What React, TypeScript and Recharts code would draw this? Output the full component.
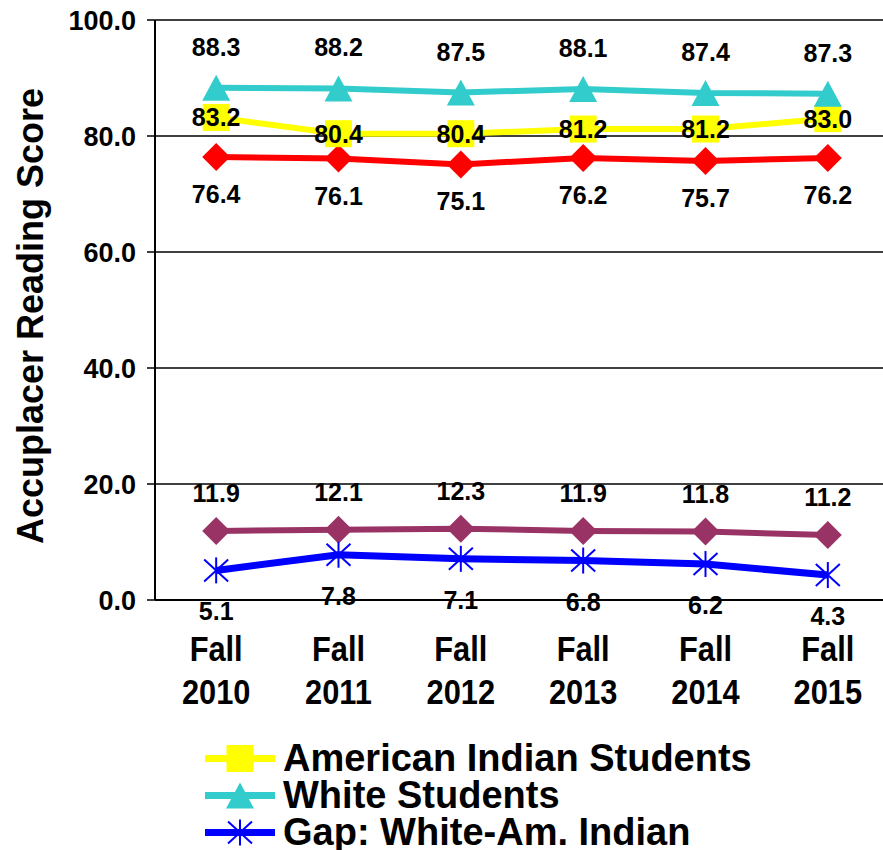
import React from 'react'
import {
  LineChart,
  Line,
  XAxis,
  YAxis,
  CartesianGrid,
  Legend,
  LabelList,
} from 'recharts'

const terms = ['Fall 2010', 'Fall 2011', 'Fall 2012', 'Fall 2013', 'Fall 2014', 'Fall 2015']
const americanIndian = [83.2, 80.4, 80.4, 81.2, 81.2, 83.0]
const whiteStudents = [88.3, 88.2, 87.5, 88.1, 87.4, 87.3]
const otherStudents = [76.4, 76.1, 75.1, 76.2, 75.7, 76.2]
const gapWhiteOther = [11.9, 12.1, 12.3, 11.9, 11.8, 11.2]
const gapWhiteAmIndian = [5.1, 7.8, 7.1, 6.8, 6.2, 4.3]
const yTicks = [0, 20, 40, 60, 80, 100]
const bandTicks = [0, 1, 2, 3, 4, 5, 6]

const FONT = '"Liberation Sans", Arial, Helvetica, sans-serif'

const data = terms.map((term, i) => ({
  term,
  ai: americanIndian[i],
  white: whiteStudents[i],
  other: otherStudents[i],
  gapOther: gapWhiteOther[i],
  gapAi: gapWhiteAmIndian[i],
}))

// marker shapes, shared by the series and the legend
const Square = ({ cx, cy, fill }: any) => (
  <rect x={cx - 13.5} y={cy - 13.5} width={27} height={27} fill={fill} />
)
const Triangle = ({ cx, cy, fill }: any) => (
  <polygon
    points={`${cx},${cy - 13} ${cx - 14},${cy + 13} ${cx + 14},${cy + 13}`}
    fill={fill}
  />
)
const Diamond = ({ cx, cy, fill }: any) => (
  <polygon
    points={`${cx},${cy - 14} ${cx + 14},${cy} ${cx},${cy + 14} ${cx - 14},${cy}`}
    fill={fill}
  />
)
const Star = ({ cx, cy, fill }: any) => (
  <g stroke={fill} strokeWidth={2}>
    <line x1={cx} y1={cy - 13} x2={cx} y2={cy + 13} />
    <line x1={cx - 12} y1={cy - 11} x2={cx + 12} y2={cy + 11} />
    <line x1={cx - 12} y1={cy + 11} x2={cx + 12} y2={cy - 11} />
  </g>
)

const dotOf = (Shape: any, fill: string) => (p: any) =>
  <Shape key={`d-${p.index}`} cx={p.cx} cy={p.cy} fill={fill} />

// value label, dy moves the label centre away from the point
const labelAt = (dy: number) => (p: any) => {
  const { x, y, value, index } = p
  return (
    <text
      key={`l-${index}`}
      x={x}
      y={y + dy + 9}
      textAnchor="middle"
      fill="#000"
      fontFamily={FONT}
      fontWeight="bold"
      fontSize={25}
    >
      {Number(value).toFixed(1)}
    </text>
  )
}

const TermTick = ({ x, y, payload }: any) => {
  const [word, year] = String(payload.value).split(' ')
  return (
    <g transform={`translate(${x},${y})`}>
      <g transform="scale(0.88,1)">
        <text y={61} textAnchor="middle" fill="#000" fontFamily={FONT} fontWeight="bold" fontSize={35}>
          {word}
        </text>
        <text y={104} textAnchor="middle" fill="#000" fontFamily={FONT} fontWeight="bold" fontSize={35}>
          {year}
        </text>
      </g>
    </g>
  )
}

const renderYTitle = (p: any) => {
  const vb = p.viewBox || { x: 0, y: 20, height: 580 }
  const cx = vb.x + 43
  const cy = vb.y + vb.height / 2 + 6
  return (
    <text
      x={cx}
      y={cy}
      transform={`rotate(-90, ${cx}, ${cy})`}
      textAnchor="middle"
      fill="#000"
      fontFamily={FONT}
      fontWeight="bold"
      fontSize={36}
    >
      Accuplacer Reading Score
    </text>
  )
}

const legendRows = [
  { label: 'American Indian Students', color: '#FFFF00', Shape: Square },
  { label: 'White Students', color: '#33CCCC', Shape: Triangle },
  { label: 'Gap: White-Am. Indian', color: '#0000FF', Shape: Star },
]

const renderLegend = () => (
  <div style={{ marginLeft: 205, fontFamily: FONT }}>
    {legendRows.map((row) => (
      <div key={row.label} style={{ display: 'flex', alignItems: 'center', height: 37 }}>
        <svg width={70} height={37} style={{ display: 'block' }}>
          <line x1={0} y1={18.5} x2={70} y2={18.5} stroke={row.color} strokeWidth={7} />
          <row.Shape cx={35} cy={18.5} fill={row.color} />
        </svg>
        <span
          style={{
            marginLeft: 8,
            fontSize: 38,
            fontWeight: 'bold',
            color: '#000',
            lineHeight: '37px',
            whiteSpace: 'nowrap',
          }}
        >
          {row.label}
        </span>
      </div>
    ))}
  </div>
)

export default function App() {
  return (
    <div
      style={{
        position: 'absolute',
        left: 0,
        top: 0,
        width: 883,
        height: 850,
        overflow: 'hidden',
        background: '#fff',
      }}
    >
      <LineChart
        width={900}
        height={870}
        data={data}
        margin={{ top: 20, right: 11, bottom: 0, left: 0 }}
      >
        <CartesianGrid vertical={false} stroke="#000" strokeWidth={1.5} />
        <XAxis
          xAxisId="bands"
          type="number"
          domain={[0, 6]}
          ticks={bandTicks}
          allowDataOverflow
          height={0}
          axisLine={false}
          tickSize={9}
          tickLine={{ stroke: '#000', strokeWidth: 1.5 }}
          tick={() => <g />}
        />
        <XAxis
          dataKey="term"
          scale="band"
          height={140}
          axisLine={{ stroke: '#000', strokeWidth: 2 }}
          tickLine={false}
          tickSize={0}
          tickMargin={0}
          interval={0}
          tick={<TermTick />}
        />
        <YAxis
          domain={[0, 100]}
          ticks={yTicks}
          width={155}
          axisLine={{ stroke: '#000', strokeWidth: 2 }}
          tickLine={{ stroke: '#000', strokeWidth: 1.5 }}
          tickSize={8}
          tickMargin={11}
          tickFormatter={(v) => Number(v).toFixed(1)}
          tick={{ fill: '#000', fontSize: 27, fontWeight: 'bold', fontFamily: FONT }}
          label={renderYTitle}
        />
        <Legend verticalAlign="bottom" height={130} content={renderLegend} />

        <Line
          dataKey="other"
          stroke="#FF0000"
          strokeWidth={6}
          dot={dotOf(Diamond, '#FF0000')}
          isAnimationActive={false}
        >
          <LabelList dataKey="other" content={labelAt(37)} />
        </Line>
        <Line
          dataKey="gapOther"
          stroke="#993366"
          strokeWidth={6}
          dot={dotOf(Diamond, '#993366')}
          isAnimationActive={false}
        >
          <LabelList dataKey="gapOther" content={labelAt(-38)} />
        </Line>
        <Line
          dataKey="gapAi"
          stroke="#0000FF"
          strokeWidth={7}
          dot={dotOf(Star, '#0000FF')}
          isAnimationActive={false}
        >
          <LabelList dataKey="gapAi" content={labelAt(41)} />
        </Line>
        <Line
          dataKey="ai"
          stroke="#FFFF00"
          strokeWidth={6}
          dot={dotOf(Square, '#FFFF00')}
          isAnimationActive={false}
        >
          <LabelList dataKey="ai" content={labelAt(0)} />
        </Line>
        <Line
          dataKey="white"
          stroke="#33CCCC"
          strokeWidth={6}
          dot={dotOf(Triangle, '#33CCCC')}
          isAnimationActive={false}
        >
          <LabelList dataKey="white" content={labelAt(-41)} />
        </Line>
      </LineChart>
    </div>
  )
}
